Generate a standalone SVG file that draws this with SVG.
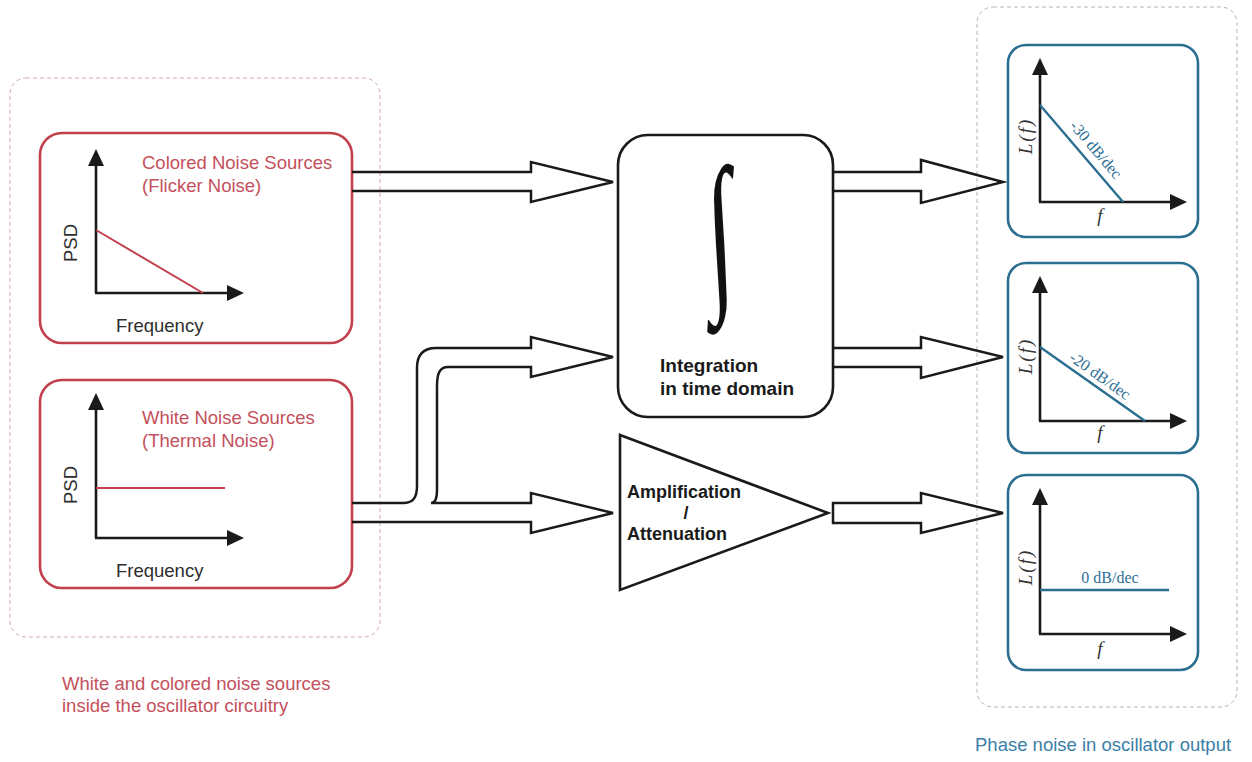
<svg xmlns="http://www.w3.org/2000/svg" width="1252" height="762" viewBox="0 0 1252 762">
<style>
.sans{font-family:"Liberation Sans",Arial,sans-serif}
.serif{font-family:"Liberation Serif","Times New Roman",serif}
.redbox{fill:none;stroke:#c2404c;stroke-width:2.6}
.bluebox{fill:none;stroke:#2b6e90;stroke-width:2.6}
.axis{fill:none;stroke:#1a1a1a;stroke-width:2.6}
.blk{fill:none;stroke:#1a1a1a;stroke-width:2.6;stroke-linejoin:miter}
.fat{fill:none;stroke:#1a1a1a;stroke-width:2.5;stroke-linejoin:miter}
.redt{fill:#c4505c;font-size:18.5px}
.axt{fill:#2e2e2e;font-size:18.5px}
.bluet{fill:#2e6f96;font-size:16px}
.lf{fill:#333;font-size:19px;font-style:italic}
.cont{fill:none;stroke-width:1;stroke-dasharray:4 3}
</style>
<defs>
<marker id="ah" viewBox="0 0 17 16" refX="9" refY="8" markerWidth="17" markerHeight="16" markerUnits="userSpaceOnUse" orient="auto">
<path d="M0,0 L17,8 L0,16 z" fill="#1a1a1a"/>
</marker>
</defs>

<g id="left-container">
<rect class="cont" x="10" y="78" width="370" height="559" rx="16" stroke="#d6a9b0"/>
<text class="sans redt" x="62" y="690">White and colored noise sources</text>
<text class="sans redt" x="62" y="712">inside the oscillator circuitry</text>
</g>

<g id="right-container">
<rect class="cont" x="977" y="7" width="260" height="700" rx="16" stroke="#aeb5ba"/>
<text class="sans" x="975" y="751" fill="#3a7ea8" font-size="18.5">Phase noise in oscillator output</text>
</g>

<g id="colored-noise">
<rect class="redbox" x="40" y="133" width="312" height="210" rx="22"/>
<line class="axis" x1="96" y1="293" x2="96" y2="157" marker-end="url(#ah)"/>
<line class="axis" x1="95" y1="293" x2="236" y2="293" marker-end="url(#ah)"/>
<line x1="96" y1="230" x2="203" y2="293" stroke="#c2404c" stroke-width="2"/>
<text class="sans redt" x="142" y="169">Colored Noise Sources</text>
<text class="sans redt" x="142" y="192">(Flicker Noise)</text>
<text class="sans axt" transform="translate(77,243) rotate(-90)" text-anchor="middle">PSD</text>
<text class="sans axt" x="116" y="332">Frequency</text>
</g>

<g id="white-noise">
<rect class="redbox" x="40" y="380" width="312" height="208" rx="22"/>
<line class="axis" x1="96" y1="538" x2="96" y2="401" marker-end="url(#ah)"/>
<line class="axis" x1="95" y1="538" x2="236" y2="538" marker-end="url(#ah)"/>
<line x1="96" y1="488" x2="225" y2="488" stroke="#c2404c" stroke-width="2"/>
<text class="sans redt" x="142" y="424">White Noise Sources</text>
<text class="sans redt" x="142" y="447">(Thermal Noise)</text>
<text class="sans axt" transform="translate(77,485) rotate(-90)" text-anchor="middle">PSD</text>
<text class="sans axt" x="116" y="577">Frequency</text>
</g>

<g id="integrator">
<rect class="blk" x="618" y="135" width="215" height="282" rx="30" fill="#fff"/>
<text class="serif" x="0" y="0" font-size="120" fill="#111" text-anchor="middle" transform="translate(723,288) scale(0.8,1.45) skewX(6)">∫</text>
<text class="sans" x="660" y="372" font-size="19" font-weight="bold" fill="#1a1a1a">Integration</text>
<text class="sans" x="660" y="395" font-size="19" font-weight="bold" fill="#1a1a1a">in time domain</text>
</g>

<g id="amplifier">
<polygon class="blk" points="620,435 828,513 620,590" fill="#fff"/>
<text class="sans" x="627" y="498" font-size="18" font-weight="bold" fill="#1a1a1a">Amplification</text>
<text class="sans" x="686" y="519" font-size="18" font-weight="bold" fill="#1a1a1a" text-anchor="middle">/</text>
<text class="sans" x="627" y="540" font-size="18" font-weight="bold" fill="#1a1a1a">Attenuation</text>
</g>

<g id="pn-30">
<rect class="bluebox" x="1008" y="45" width="190" height="192" rx="18"/>
<line class="axis" x1="1040" y1="202" x2="1040" y2="66" marker-end="url(#ah)"/>
<line class="axis" x1="1039" y1="202" x2="1179" y2="202" marker-end="url(#ah)"/>
<line x1="1040" y1="105" x2="1123" y2="202" stroke="#2b6e90" stroke-width="2.4"/>
<text class="serif bluet" transform="translate(1092,153) rotate(49.4)" text-anchor="middle">-30 dB/dec</text>
<text class="serif lf" transform="translate(1032,136) rotate(-90)" text-anchor="middle" letter-spacing="2">L(f)</text>
<text class="serif lf" x="1100" y="222" text-anchor="middle">f</text>
</g>

<g id="pn-20">
<rect class="bluebox" x="1008" y="263" width="190" height="190" rx="18"/>
<line class="axis" x1="1040" y1="421" x2="1040" y2="284" marker-end="url(#ah)"/>
<line class="axis" x1="1039" y1="421" x2="1179" y2="421" marker-end="url(#ah)"/>
<line x1="1040" y1="347" x2="1145" y2="421" stroke="#2b6e90" stroke-width="2.4"/>
<text class="serif bluet" transform="translate(1097,380) rotate(35.2)" text-anchor="middle">-20 dB/dec</text>
<text class="serif lf" transform="translate(1032,356) rotate(-90)" text-anchor="middle" letter-spacing="2">L(f)</text>
<text class="serif lf" x="1100" y="439" text-anchor="middle">f</text>
</g>

<g id="pn-0">
<rect class="bluebox" x="1008" y="475" width="190" height="195" rx="18"/>
<line class="axis" x1="1040" y1="634" x2="1040" y2="496" marker-end="url(#ah)"/>
<line class="axis" x1="1039" y1="634" x2="1179" y2="634" marker-end="url(#ah)"/>
<line x1="1040" y1="590" x2="1169" y2="590" stroke="#2b6e90" stroke-width="2.4"/>
<text class="serif bluet" x="1110" y="583" text-anchor="middle">0 dB/dec</text>
<text class="serif lf" transform="translate(1032,567) rotate(-90)" text-anchor="middle" letter-spacing="2">L(f)</text>
<text class="serif lf" x="1100" y="655" text-anchor="middle">f</text>
</g>

<g id="connectors">
<path class="fat" d="M352,172 H531 V162 L613,182 L531,202 V191 H352"/>
<path class="fat" d="M352,503 H403 C413,503 417,498 417,486 V368 C417,355 423,348 436,348 H531 V337 L613,357 L531,377 V367 H448 C440,367 437,373 437,386 V490 C437,499 435,503 431,503 H531 V493 L613,513 L531,533 V522 H352"/>
<path class="fat" d="M833,172 H921 V160 L1003,182 L921,203 V191 H833"/>
<path class="fat" d="M833,348 H921 V337 L1003,357 L921,378 V367 H833"/>
<path class="fat" d="M833,503 H921 V493 L1003,513 L921,533 V523 H833 Z"/>
</g>
</svg>
